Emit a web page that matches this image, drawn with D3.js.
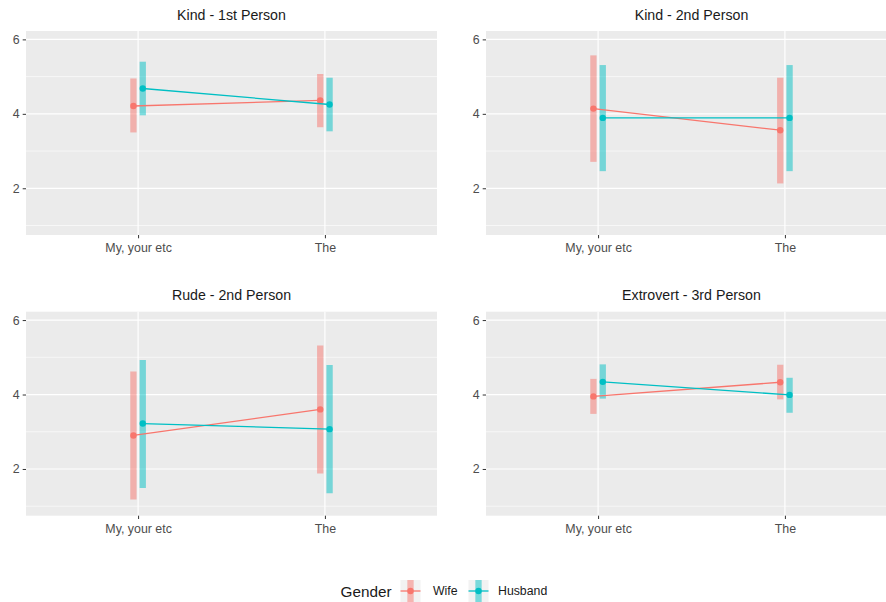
<!DOCTYPE html>
<html>
<head>
<meta charset="utf-8">
<script src="https://cdn.jsdelivr.net/npm/d3@7"></script>
<style>
  body { margin: 0; background: #fff; }
  text { font-family: "Liberation Sans", Arial, Helvetica, sans-serif; }
</style>
</head>
<body>
<script>
// data
const categories = ["My, your etc", "The"];
const panelTitles = ["Kind - 1st Person", "Kind - 2nd Person", "Rude - 2nd Person", "Extrovert - 3rd Person"];
const genders = ["Wife", "Husband"];
const genderColors = ["#F8766D", "#00BFC4"];

// one row per panel, one value per category
const wifeMean  = [[4.21, 4.36], [4.14, 3.56], [2.90, 3.60], [3.95, 4.33]];
const wifeLow   = [[3.50, 3.64], [2.71, 2.13], [1.18, 1.88], [3.48, 3.87]];
const wifeHigh  = [[4.95, 5.07], [5.57, 4.97], [4.62, 5.32], [4.42, 4.80]];
const husbMean  = [[4.68, 4.25], [3.89, 3.89], [3.22, 3.07], [4.34, 3.99]];
const husbLow   = [[3.96, 3.53], [2.46, 2.46], [1.49, 1.35], [3.89, 3.51]];
const husbHigh  = [[5.40, 4.97], [5.31, 5.31], [4.93, 4.79], [4.81, 4.45]];

const yMajor = [2, 4, 6];
const yMinor = [1, 3, 5];

const width = 886, height = 602;
const panelW = 411, panelH = 204;
const colX = [26, 486], rowY = [31, 311.7];

const svg = d3.select("body").append("svg")
    .attr("width", width)
    .attr("height", height)
    .attr("viewBox", [0, 0, width, height]);

const x = d3.scalePoint().domain(categories).range([0, panelW]).padding(0.6);
const y = d3.scaleLinear().domain([0.745, 6.225]).range([panelH, 0]);
const dodge = x.step() * 0.025;

const series = [
  {name: genders[0], color: genderColors[0], mean: wifeMean, low: wifeLow, high: wifeHigh, off: -dodge},
  {name: genders[1], color: genderColors[1], mean: husbMean, low: husbLow, high: husbHigh, off: dodge}
];

panelTitles.forEach((title, p) => {
  const g = svg.append("g")
      .attr("transform", `translate(${colX[p % 2]},${rowY[Math.floor(p / 2)]})`);

  g.append("rect")
      .attr("width", panelW).attr("height", panelH)
      .attr("fill", "#EBEBEB");

  // grid
  g.append("g").selectAll("line")
    .data(yMinor)
    .join("line")
      .attr("x1", 0).attr("x2", panelW)
      .attr("y1", d => y(d)).attr("y2", d => y(d))
      .attr("stroke", "#fff").attr("stroke-width", 0.6);
  g.append("g").selectAll("line")
    .data(yMajor)
    .join("line")
      .attr("x1", 0).attr("x2", panelW)
      .attr("y1", d => y(d)).attr("y2", d => y(d))
      .attr("stroke", "#fff").attr("stroke-width", 1.2);
  g.append("g").selectAll("line")
    .data(categories)
    .join("line")
      .attr("x1", d => x(d)).attr("x2", d => x(d))
      .attr("y1", 0).attr("y2", panelH)
      .attr("stroke", "#fff").attr("stroke-width", 1.2);

  // axes
  const xAxis = g.append("g")
      .attr("transform", `translate(0,${panelH})`)
      .call(d3.axisBottom(x).tickSize(3.3).tickPadding(5));
  const yAxis = g.append("g")
      .call(d3.axisLeft(y).tickValues(yMajor).tickFormat(d3.format("d")).tickSize(3.3).tickPadding(3));
  [xAxis, yAxis].forEach(a => {
    a.select(".domain").remove();
    a.selectAll(".tick line").attr("stroke", "#333333");
    a.selectAll(".tick text")
      .attr("fill", "#4D4D4D")
      .style("font-size", "12.4px")
      .style("font-family", '"Liberation Sans", Arial, sans-serif');
  });

  // strip title
  svg.append("text")
      .attr("x", colX[p % 2] + panelW / 2)
      .attr("y", rowY[Math.floor(p / 2)] - 16.3 + 5)
      .attr("text-anchor", "middle")
      .attr("fill", "#1A1A1A")
      .style("font-size", "14.2px")
      .text(title);

  // error bars
  series.forEach(s => {
    g.append("g").selectAll("line")
      .data(categories)
      .join("line")
        .attr("x1", d => x(d) + s.off).attr("x2", d => x(d) + s.off)
        .attr("y1", (d, i) => y(s.low[p][i]))
        .attr("y2", (d, i) => y(s.high[p][i]))
        .attr("stroke", s.color)
        .attr("stroke-opacity", 0.5)
        .attr("stroke-width", 6.3);
  });

  // lines and points
  const line = d3.line()
      .x(d => d.x)
      .y(d => y(d.v));
  series.forEach(s => {
    const pts = categories.map((c, i) => ({x: x(c) + s.off, v: s.mean[p][i]}));
    g.append("path")
        .attr("d", line(pts))
        .attr("fill", "none")
        .attr("stroke", s.color)
        .attr("stroke-width", 1.3);
    g.append("g").selectAll("circle")
      .data(pts)
      .join("circle")
        .attr("cx", d => d.x)
        .attr("cy", d => y(d.v))
        .attr("r", 3.2)
        .attr("fill", s.color);
  });
});

// legend
const legend = svg.append("g").attr("transform", "translate(0,591)");
legend.append("text")
    .attr("x", 340.5).attr("y", 5.5)
    .attr("fill", "#1A1A1A")
    .style("font-size", "15.3px")
    .text("Gender");

const keyX = [410.5, 478.5];
const labelX = [433, 498];
series.forEach((s, i) => {
  const k = legend.append("g").attr("transform", `translate(${keyX[i]},0)`);
  k.append("rect")
      .attr("x", -10).attr("y", -11).attr("width", 20).attr("height", 22)
      .attr("fill", "#F2F2F2");
  k.append("line")
      .attr("x1", 0).attr("x2", 0).attr("y1", -11).attr("y2", 11)
      .attr("stroke", s.color).attr("stroke-opacity", 0.5).attr("stroke-width", 6.3);
  k.append("line")
      .attr("x1", -10).attr("x2", 10).attr("y1", 0).attr("y2", 0)
      .attr("stroke", s.color).attr("stroke-width", 1.3);
  k.append("circle").attr("r", 3.2).attr("fill", s.color);
  legend.append("text")
      .attr("x", labelX[i]).attr("y", 4.3)
      .attr("fill", "#1A1A1A")
      .style("font-size", "12.3px")
      .text(s.name);
});
</script>
</body>
</html>
